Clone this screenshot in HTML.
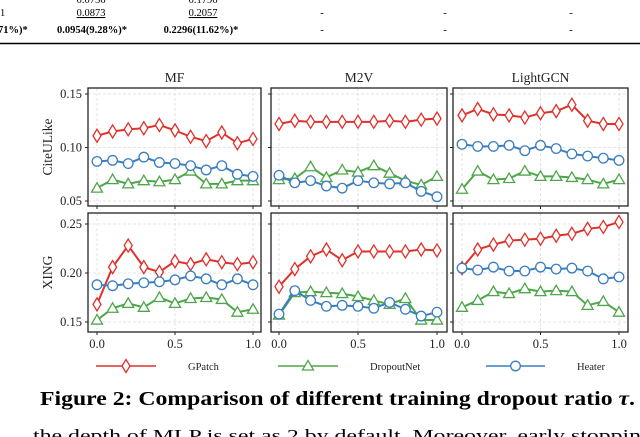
<!DOCTYPE html>
<html><head><meta charset="utf-8">
<style>
html,body{margin:0;padding:0;background:#fff;}
body{width:640px;height:437px;overflow:hidden;position:relative;font-family:"Liberation Serif",serif;}
svg{position:absolute;left:0;top:0;}
</style></head>
<body>
<svg id="fig" width="640" height="437" viewBox="0 0 640 437" font-family="Liberation Serif, serif">
  <g font-size="10.5" fill="#000">
    <text x="91" y="3" text-anchor="middle">0.0756</text>
    <text x="203" y="3" text-anchor="middle">0.1796</text>
    <text x="0" y="16">1</text>
    <text x="91" y="16" text-anchor="middle" text-decoration="underline">0.0873</text>
    <text x="203" y="16" text-anchor="middle" text-decoration="underline">0.2057</text>
    <text x="322" y="16" text-anchor="middle">-</text>
    <text x="445" y="16" text-anchor="middle">-</text>
    <text x="571" y="16" text-anchor="middle">-</text>
    <text x="-2" y="33" font-weight="bold">71%)*</text>
    <text x="92" y="33" text-anchor="middle" font-weight="bold">0.0954(9.28%)*</text>
    <text x="201" y="33" text-anchor="middle" font-weight="bold">0.2296(11.62%)*</text>
    <text x="322" y="33" text-anchor="middle">-</text>
    <text x="445" y="33" text-anchor="middle">-</text>
    <text x="571" y="33" text-anchor="middle">-</text>
    <line x1="0" y1="43.5" x2="640" y2="43.5" stroke="#000" stroke-width="1.6"/>
  </g>
  <g id="panels"></g>
  <g id="legend"></g>
  <text x="40" y="405" font-size="20" font-weight="bold" textLength="595" lengthAdjust="spacingAndGlyphs">Figure 2: Comparison of different training dropout ratio <tspan font-style="italic">τ</tspan>.</text>
  <text x="33" y="441" font-size="17" textLength="620" lengthAdjust="spacingAndGlyphs">the depth of MLP is set as 2 by default. Moreover, early stopping</text>
</svg>
<script>
const xs = [0,0.1,0.2,0.3,0.4,0.5,0.6,0.7,0.8,0.9,1.0];
const models = ["MF","M2V","LightGCN"];
const datasets = ["CiteULike","XING"];
const xTicks = [0.0,0.5,1.0];
const xTickLabels = ["0.0","0.5","1.0"];
const yTicksCite = [0.05,0.10,0.15];
const yTickLabelsCite = ["0.05","0.10","0.15"];
const yTicksXing = [0.15,0.20,0.25];
const yTickLabelsXing = ["0.15","0.20","0.25"];
// CiteULike
const citeMF_GPatch = [0.111,0.115,0.117,0.118,0.121,0.116,0.110,0.106,0.114,0.104,0.108];
const citeMF_Heater = [0.087,0.088,0.085,0.091,0.086,0.085,0.083,0.079,0.083,0.075,0.073];
const citeMF_Dropout = [0.062,0.070,0.066,0.069,0.068,0.070,0.078,0.066,0.066,0.069,0.069];
const citeM2V_GPatch = [0.122,0.125,0.124,0.124,0.124,0.124,0.124,0.125,0.124,0.126,0.127];
const citeM2V_Heater = [0.074,0.067,0.069,0.064,0.062,0.069,0.067,0.066,0.067,0.059,0.054];
const citeM2V_Dropout = [0.070,0.071,0.082,0.072,0.079,0.077,0.083,0.076,0.069,0.065,0.073];
const citeLG_GPatch = [0.130,0.136,0.131,0.130,0.128,0.132,0.134,0.140,0.125,0.122,0.122];
const citeLG_Heater = [0.103,0.101,0.101,0.102,0.097,0.102,0.099,0.094,0.092,0.090,0.088];
const citeLG_Dropout = [0.061,0.078,0.070,0.071,0.078,0.073,0.073,0.072,0.070,0.066,0.070];
// XING
const xingMF_GPatch = [0.168,0.206,0.228,0.206,0.201,0.212,0.209,0.214,0.211,0.209,0.211];
const xingMF_Heater = [0.188,0.187,0.189,0.190,0.191,0.193,0.197,0.194,0.188,0.194,0.188];
const xingMF_Dropout = [0.152,0.164,0.169,0.165,0.175,0.169,0.174,0.175,0.173,0.160,0.163];
const xingM2V_GPatch = [0.186,0.204,0.217,0.224,0.213,0.222,0.222,0.222,0.222,0.224,0.223];
const xingM2V_Heater = [0.158,0.182,0.172,0.166,0.167,0.166,0.164,0.170,0.163,0.156,0.160];
const xingM2V_Dropout = [0.157,0.180,0.181,0.180,0.179,0.176,0.172,0.168,0.174,0.152,0.152];
const xingLG_GPatch = [0.205,0.224,0.229,0.233,0.234,0.235,0.238,0.240,0.245,0.247,0.252];
const xingLG_Heater = [0.205,0.203,0.206,0.202,0.202,0.206,0.204,0.205,0.202,0.194,0.196];
const xingLG_Dropout = [0.165,0.172,0.181,0.179,0.184,0.181,0.182,0.181,0.167,0.171,0.160];

const NS="http://www.w3.org/2000/svg";
const COLORS={GPatch:"#e0302a",DropoutNet:"#4ea64a",Heater:"#3a7ebf"};
function mk(tag,attrs,parent){const e=document.createElementNS(NS,tag);for(const k in attrs)e.setAttribute(k,attrs[k]);if(parent)parent.appendChild(e);return e;}

const panelsX=[[88,261,97,253],[271,447,279,437],[453,628,462,619]];
const rowsY=[{top:88,bot:206,v0:0.15,p0:94,v1:0.05,p1:201},{top:213,bot:332,v0:0.25,p0:224,v1:0.15,p1:322}];
const seriesData=[
 [[citeMF_GPatch,citeMF_Dropout,citeMF_Heater],[citeM2V_GPatch,citeM2V_Dropout,citeM2V_Heater],[citeLG_GPatch,citeLG_Dropout,citeLG_Heater]],
 [[xingMF_GPatch,xingMF_Dropout,xingMF_Heater],[xingM2V_GPatch,xingM2V_Dropout,xingM2V_Heater],[xingLG_GPatch,xingLG_Dropout,xingLG_Heater]]
];
const seriesNames=["GPatch","DropoutNet","Heater"];
const root=document.getElementById("panels");

function marker(g,kind,x,y,color){
  let m;
  if(kind==="GPatch") m=mk("polygon",{points:`${x},${y-6.5} ${x+4},${y} ${x},${y+6.5} ${x-4},${y}`,fill:"#fff",stroke:color,"stroke-width":1.3},g);
  else if(kind==="DropoutNet") m=mk("polygon",{points:`${x},${y-5.5} ${x+5.5},${y+4} ${x-5.5},${y+4}`,fill:"#fff",stroke:color,"stroke-width":1.3},g);
  else m=mk("circle",{cx:x,cy:y,r:4.8,fill:"#fff",stroke:color,"stroke-width":1.3},g);
  return m;
}

for(let r=0;r<2;r++){
  const R=rowsY[r];
  const yS=v=>R.p0+(v-R.v0)/(R.v1-R.v0)*(R.p1-R.p0);
  const yt=r===0?yTicksCite:yTicksXing, ytl=r===0?yTickLabelsCite:yTickLabelsXing;
  for(let c=0;c<3;c++){
    const [L,Rt,x0p,x1p]=panelsX[c];
    const xS=v=>x0p+v*(x1p-x0p);
    const g=mk("g",{},root);
    
    
    yt.forEach(v=>{mk("line",{x1:L,x2:Rt,y1:yS(v),y2:yS(v),stroke:"#ddd","stroke-width":0.8,"stroke-dasharray":"3,2"},g);});
    xTicks.forEach(v=>{mk("line",{x1:xS(v),x2:xS(v),y1:R.top,y2:R.bot,stroke:"#ddd","stroke-width":0.8,"stroke-dasharray":"3,2"},g);});
    for(let s=0;s<3;s++){
      const vals=seriesData[r][c][s];
      const col=COLORS[seriesNames[s]];
      const sg=mk("g",{},g);
      
      
      const pts=vals.map((v,i)=>xS(xs[i])+","+yS(v)).join(" ");
      mk("polyline",{points:pts,fill:"none",stroke:col,"stroke-width":2},sg);
      vals.forEach((v,i)=>{const m=marker(sg,seriesNames[s],xS(xs[i]),yS(v),col);
        
        });
    }
    mk("rect",{x:L,y:R.top,width:Rt-L,height:R.bot-R.top,fill:"none",stroke:"#222","stroke-width":1.3},g);
    yt.forEach((v,i)=>{mk("line",{x1:L-3,x2:L,y1:yS(v),y2:yS(v),stroke:"#222","stroke-width":1},g);
      if(c===0){const t=mk("text",{x:L-6,y:yS(v)+4,"font-size":12.5,"text-anchor":"end",fill:"#222"},g);t.textContent=ytl[i];
        }});
    xTicks.forEach((v,i)=>{mk("line",{x1:xS(v),x2:xS(v),y1:R.bot,y2:R.bot+3,stroke:"#222","stroke-width":1},g);
      if(r===1){const t=mk("text",{x:xS(v),y:R.bot+16,"font-size":12.5,"text-anchor":"middle",fill:"#222"},g);t.textContent=xTickLabels[i];
        }});
    if(r===0){const t=mk("text",{x:(L+Rt)/2,y:R.top-6,"font-size":13.5,"text-anchor":"middle",fill:"#222"},g);t.textContent=models[c];
      }
    if(c===0){const cy=(R.top+R.bot)/2;const t=mk("text",{x:52,y:cy,"font-size":13.5,"text-anchor":"middle",fill:"#222",transform:`rotate(-90 52 ${cy})`},g);t.textContent=datasets[r];
      }
  }
}
const lg=document.getElementById("legend");
const legendPos=[[96,156,188],[278,338,370],[486,545,577]];
seriesNames.forEach((n,i)=>{
  const [a,b,tx]=legendPos[i];const col=COLORS[n];
  const e=mk("g",{},lg);
  
  
  mk("line",{x1:a,x2:b,y1:366,y2:366,stroke:col,"stroke-width":1.5},e);
  marker(e,n,(a+b)/2,366,col);
  const t=mk("text",{x:tx,y:370,"font-size":10.5,fill:"#222"},e);t.textContent=n;
});
</script>
</body></html>
